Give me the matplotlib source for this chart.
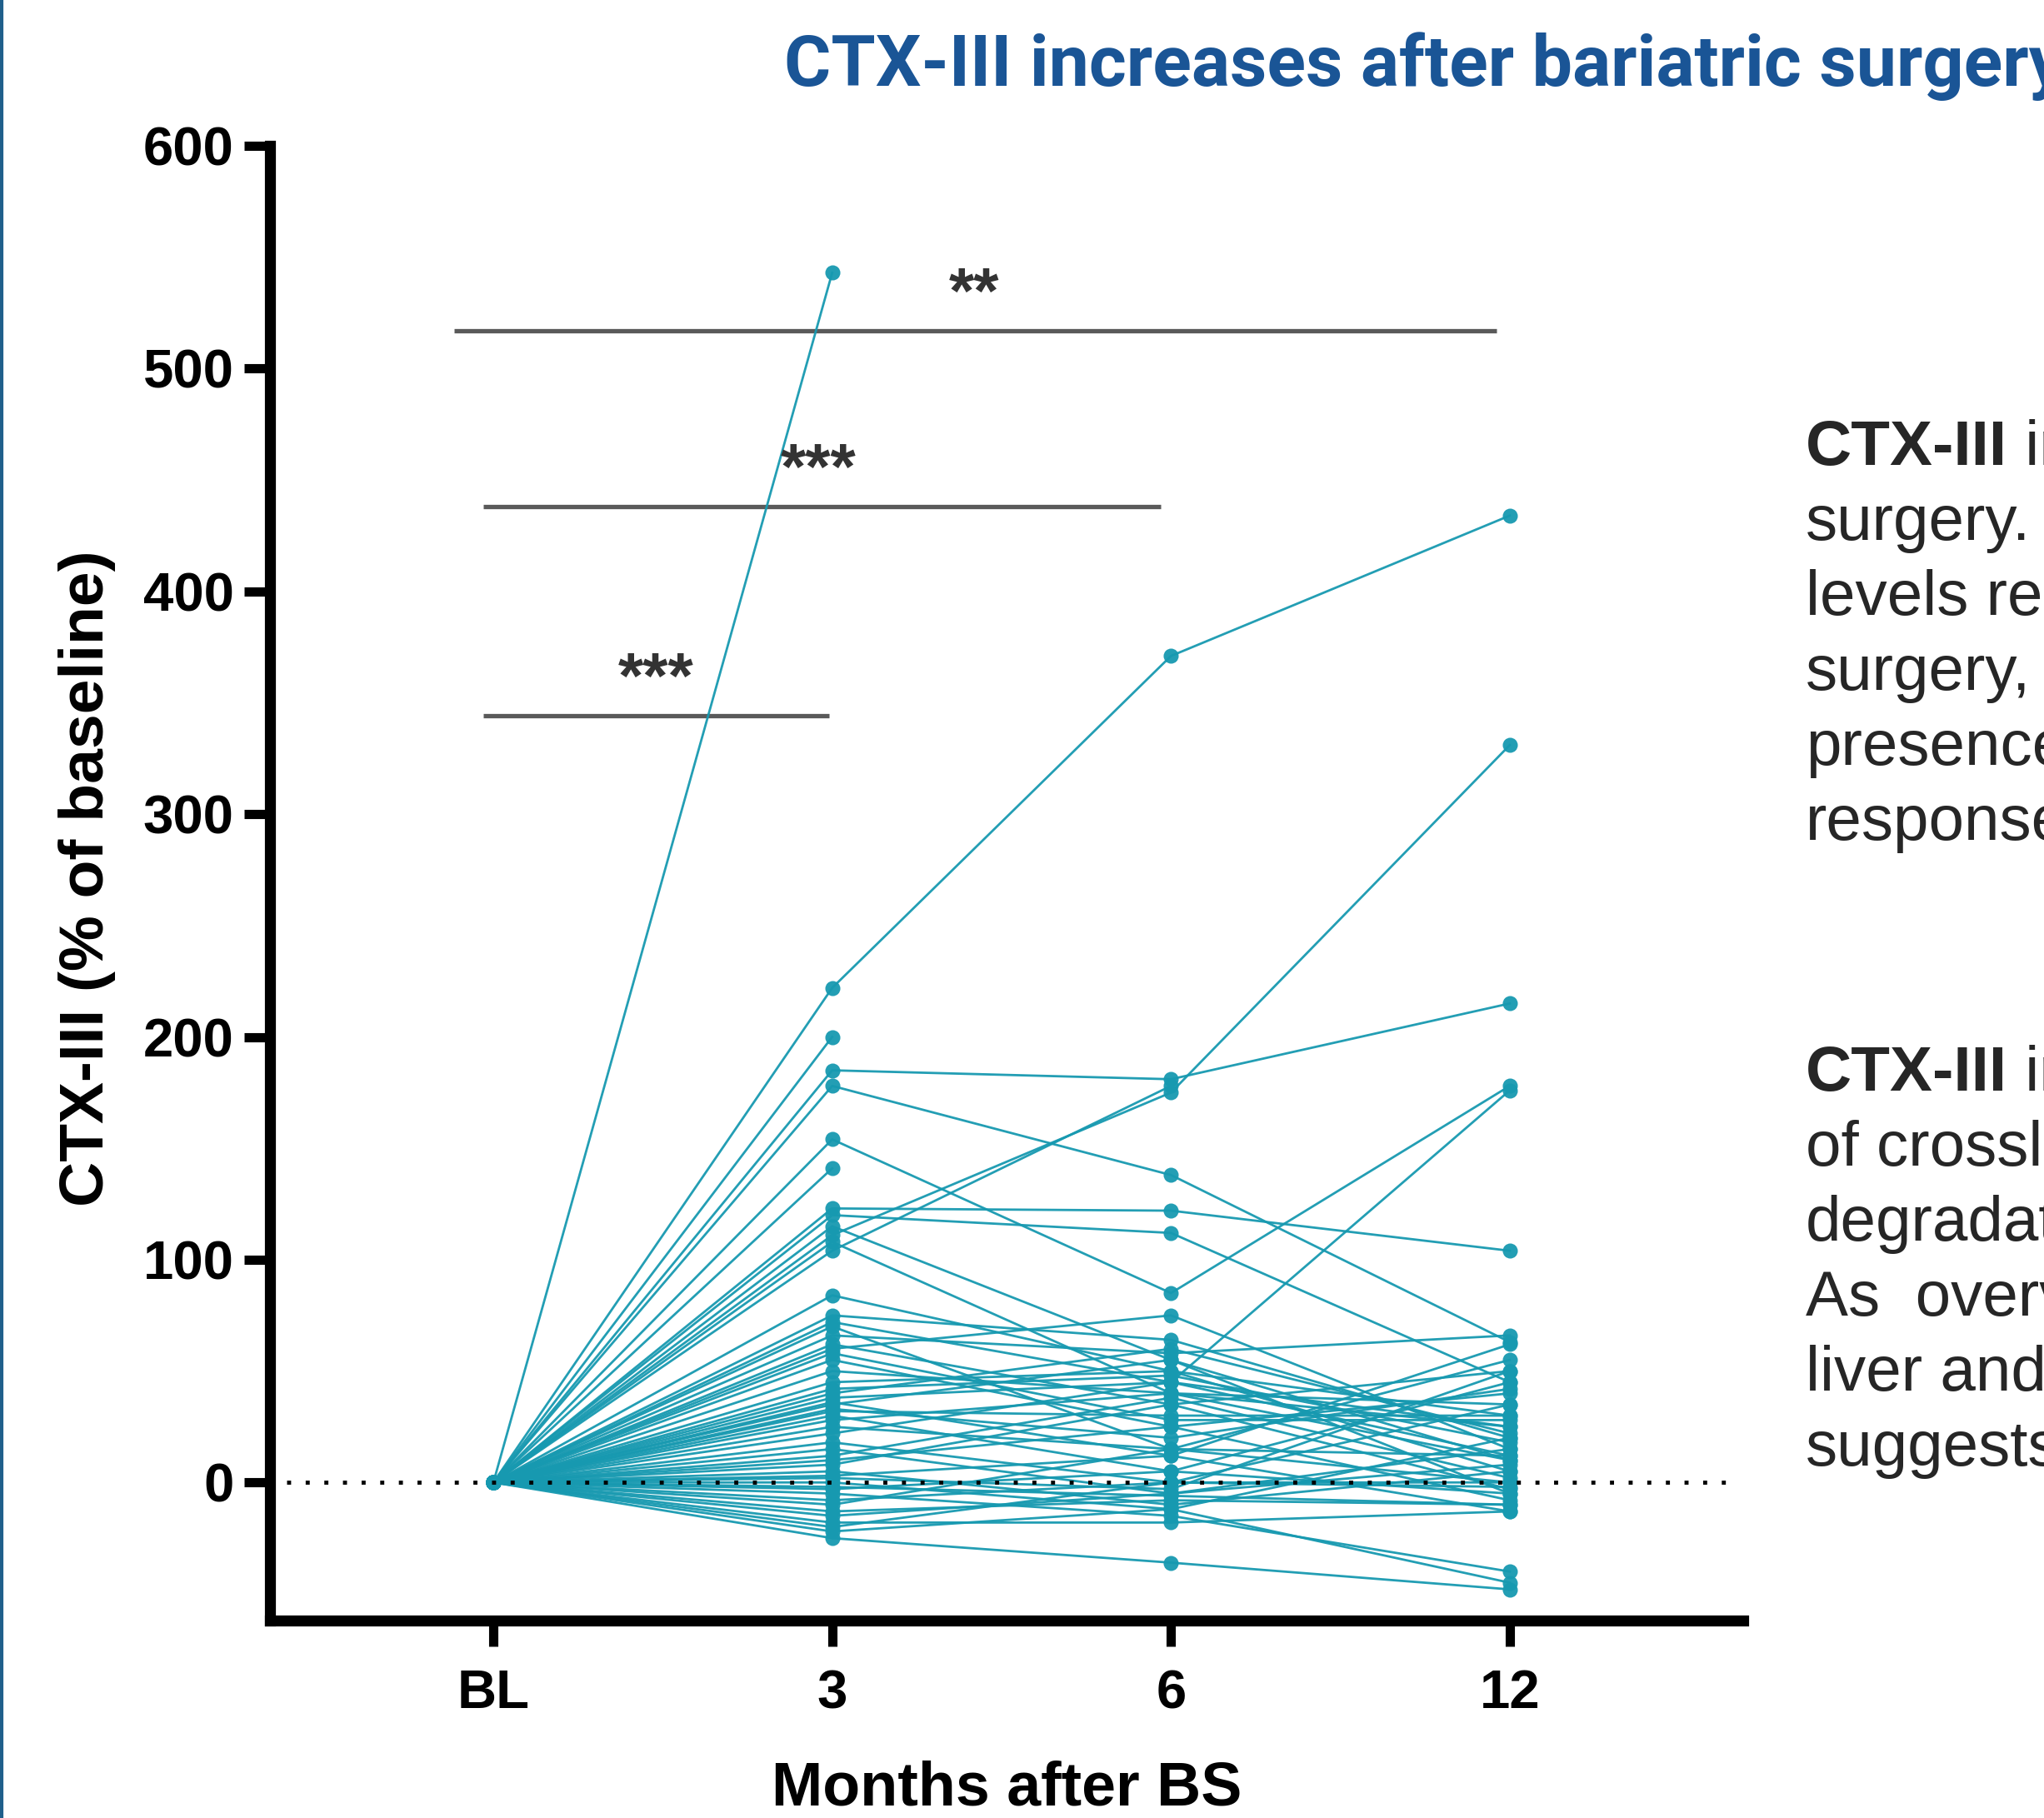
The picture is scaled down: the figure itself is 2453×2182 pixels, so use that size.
import numpy as np
import matplotlib
matplotlib.use('Agg')
import matplotlib.pyplot as plt
from matplotlib.lines import Line2D

# time points (x positions 0..3)
timepoints = ['BL', '3', '6', '12']

# CTX-III, % change from baseline, one entry per patient (BL is 0 for all)
m3 = [543, 222, 200, 185, 178, 154, 141, 123, 120, 111, 104, 115, 108, 84, 75,
      72, 70, 66, 62, 60, 55, 50, 45, 40, 38, 36, 35, 32, 30, 28,
      25, 22, 18, 15, 10, 5, 3, 0, -3, -5, -8, -10, -13, -15, -18,
      -20, -22, -25, 2, 8, 42, 58, 33, 12, -2]
m6 = [np.nan, 371, np.nan, 181, 138, 85, np.nan, 122, 112, 175, 178, 55, 40, 50, 64,
      45, 15, 58, 35, 75, 25, 40, 50, 60, 45, 12, 55, 30, 5, 40,
      15, 45, 0, -5, 25, -10, 12, -12, 5, -15, 0, 15, -8, -5, -18,
      0, -12, -36, -3, 35, 48, 28, 20, 38, -6]
m12 = [np.nan, 434, np.nan, 215, 63, 178, np.nan, 104, 45, 331, np.nan, 10, 25, 30, 20,
       176, 55, 66, 50, 15, 40, 35, 5, 22, 12, 62, -5, 30, 45, 10,
       0, 25, 35, 15, -8, 5, -13, 20, -5, -40, -2, 12, -10, 8, -13,
       0, -45, -48, 50, -3, 18, 28, 42, 2, -10]

# significance brackets: (start, end, height, label)
sig_start = [-0.115, -0.03, -0.03]
sig_end = [2.96, 1.97, 0.99]
sig_y = [517, 438, 344]
sig_labels = ['**', '***', '***']
sig_label_x = [1.42, 0.96, 0.48]

teal = '#1799b0'

fig = plt.figure(figsize=(24.53, 21.82), dpi=100)
ax = fig.add_axes([0.132, 0.1086, 0.721, 0.8112])

x = np.arange(len(timepoints))
for a, b, c in zip(m3, m6, m12):
    ax.plot(x, [0, a, b, c], color=teal, lw=2.0, marker='o', markersize=13,
            markeredgewidth=0, alpha=0.95, zorder=2, clip_on=False)

# zero reference line
ax.plot([-0.61, 3.64], [0, 0], color='black', lw=3.5, linestyle=(0, (1, 3.6)),
        zorder=3, clip_on=False)

# significance bars
for s, e, h, lab, lx in zip(sig_start, sig_end, sig_y, sig_labels, sig_label_x):
    ax.plot([s, e], [h, h], color='#5a5a5a', lw=3.8, zorder=1, solid_capstyle='butt')
    ax.text(lx, h + 8, lab, ha='center', va='baseline', fontsize=56, color='#333333',
            family='Liberation Sans', fontweight='bold')

ax.set_xlim(-0.66, 3.69)
ax.set_ylim(-62, 600)
ax.set_xticks(x)
ax.set_xticklabels(timepoints)
ax.set_yticks(np.arange(0, 601, 100))

for sp in ['top', 'right']:
    ax.spines[sp].set_visible(False)
for sp in ['left', 'bottom']:
    ax.spines[sp].set_linewidth(9.5)
    ax.spines[sp].set_color('black')

ax.tick_params(axis='both', length=22, width=8, color='black')
ax.tick_params(axis='y', pad=9)
ax.tick_params(axis='x', pad=20)
for lbl in ax.get_xticklabels() + ax.get_yticklabels():
    lbl.set_fontfamily('Liberation Sans')
    lbl.set_fontweight('bold')
    lbl.set_fontsize(47)

fig.text(0.0424, 0.517, 'CTX-III (% of baseline)', rotation=90, ha='center', va='center',
         fontsize=54, fontweight='bold', family='Liberation Sans')
fig.text(0.4925, 0.0069, 'Months after BS', ha='center', va='baseline',
         fontsize=53, fontweight='bold', family='Liberation Sans')

fig.text(0.3835, 0.9528, 'CTX-III increases after bariatric surgery', ha='left', va='baseline',
         fontsize=62, fontweight='bold', family='Roboto', color='#1a5596')

# left poster border
fig.add_artist(Line2D([0.0008, 0.0008], [0, 1], transform=fig.transFigure,
                      color='#1f5f8b', lw=3))

# side text, cut off by the right edge like the poster crop
text_x = 0.8834
line_gap = 90 / 2182
block1 = ['in', 'surgery.', 'levels rem', 'surgery,', 'presence', 'response']
block2 = ['in', 'of crossli', 'degradat', 'As  overv', 'liver and', 'suggests']
for top, lines in [(1 - 558 / 2182, block1), (1 - 1309 / 2182, block2)]:
    for i, line in enumerate(lines):
        y = top - i * line_gap
        if i == 0:
            t = fig.text(text_x, y, 'CTX-III', ha='left', va='baseline', fontsize=55,
                         fontweight='bold', family='Liberation Sans', color='#262626')
            fig.canvas.draw()
            ex = t.get_window_extent()
            fig.text(ex.x1 / fig.bbox.width, y, ' ' + line, ha='left', va='baseline',
                     fontsize=55, family='Liberation Sans', color='#262626')
        else:
            fig.text(text_x, y, line, ha='left', va='baseline', fontsize=55,
                     family='Liberation Sans', color='#262626')

fig.savefig('out.png', dpi=100)
